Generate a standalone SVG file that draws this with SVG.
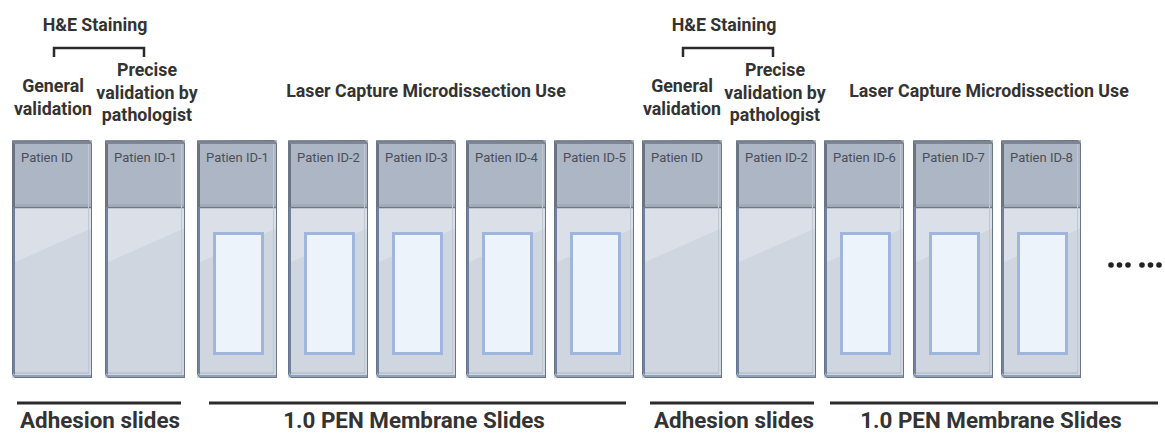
<svg xmlns="http://www.w3.org/2000/svg" xmlns:xlink="http://www.w3.org/1999/xlink" width="1165" height="434" viewBox="0 0 1165 434">
  <style>
    .title { font-family: Roboto, "Liberation Sans", sans-serif; font-weight: 700; font-size: 17.8px; fill: #333333; text-anchor: middle; }
    .bottom { font-family: Roboto, "Liberation Sans", sans-serif; font-weight: 700; font-size: 22.4px; fill: #333333; text-anchor: middle; }
    .id { font-family: Roboto, "Liberation Sans", sans-serif; font-size: 13px; fill: #4a4f58; }
    .rule { stroke: #2b2b2b; stroke-width: 3; fill: none; }
    .bracket { stroke: #2b2b2b; stroke-width: 2.5; fill: none; }
  </style>
  <defs>
    <g id="slideBase">
      <rect x="0" y="140" width="80" height="238" fill="#d0d6df"/>
      <polygon points="3,207 80,207 80,228 3,262" fill="#dbe0e8"/>
      <rect x="0" y="140" width="80" height="67" fill="#adb6c4"/>
      <polygon points="0,141 3,144 3,375 0,372" fill="#6e82a0"/>
      <polygon points="0,141 3,144 3,207 0,207" fill="#6c737e"/>
      <polygon points="0,141 77,141 80,144 3,144" fill="#7f8691"/>
      <line x1="3" y1="205" x2="80" y2="205" stroke="#9aa2ae" stroke-width="1"/>
      <line x1="3" y1="207.5" x2="80" y2="207.5" stroke="#6f7784" stroke-width="1.5"/>
      <line x1="76.5" y1="144" x2="76.5" y2="373" stroke="#bfc7d3" stroke-width="1"/>
      <line x1="3" y1="373" x2="77" y2="373" stroke="#aab4c3" stroke-width="1"/>
      <polygon points="0,372 3,375 80,375 80,378 3,378" fill="#8fa0b8"/>
      <path d="M0.5,141 L77,140.5 L79.5,143.5 L79.5,377.5 L3,377.5 L0.5,374.5 Z" fill="none" stroke="#6a7588" stroke-width="1"/>
    </g>
    <g id="window">
      <rect x="17.5" y="233.5" width="48" height="120" fill="#edf3fb" stroke="#a0b5dc" stroke-width="3"/>
    </g>
  </defs>

  <g id="header-left">
    <text class="title" x="95" y="31">H&amp;E Staining</text>
    <path class="bracket" d="M54,57 V48 H144 V57"/>
    <text class="title" x="53" y="92">General</text>
    <text class="title" x="53" y="115">validation</text>
    <text class="title" x="147" y="76">Precise</text>
    <text class="title" x="147" y="99">validation by</text>
    <text class="title" x="147" y="121">pathologist</text>
    <text class="title" x="426" y="97">Laser Capture Microdissection Use</text>
  </g>
  <g id="header-right">
    <text class="title" x="724" y="31">H&amp;E Staining</text>
    <path class="bracket" d="M683,57 V48 H773 V57"/>
    <text class="title" x="682" y="92">General</text>
    <text class="title" x="682" y="115">validation</text>
    <text class="title" x="775" y="76">Precise</text>
    <text class="title" x="775" y="99">validation by</text>
    <text class="title" x="775" y="121">pathologist</text>
    <text class="title" x="989" y="97">Laser Capture Microdissection Use</text>
  </g>

  <g id="slide-1" transform="translate(12,0)"><use xlink:href="#slideBase"/><text class="id" x="9" y="162">Patien ID</text></g>
  <g id="slide-2" transform="translate(105,0)"><use xlink:href="#slideBase"/><text class="id" x="9" y="162">Patien ID-1</text></g>
  <g id="slide-3" transform="translate(197,0)"><use xlink:href="#slideBase"/><use xlink:href="#window"/><text class="id" x="9" y="162">Patien ID-1</text></g>
  <g id="slide-4" transform="translate(288,0)"><use xlink:href="#slideBase"/><use xlink:href="#window"/><text class="id" x="9" y="162">Patien ID-2</text></g>
  <g id="slide-5" transform="translate(376,0)"><use xlink:href="#slideBase"/><use xlink:href="#window"/><text class="id" x="9" y="162">Patien ID-3</text></g>
  <g id="slide-6" transform="translate(466,0)"><use xlink:href="#slideBase"/><use xlink:href="#window"/><text class="id" x="9" y="162">Patien ID-4</text></g>
  <g id="slide-7" transform="translate(554,0)"><use xlink:href="#slideBase"/><use xlink:href="#window"/><text class="id" x="9" y="162">Patien ID-5</text></g>
  <g id="slide-8" transform="translate(642,0)"><use xlink:href="#slideBase"/><text class="id" x="9" y="162">Patien ID</text></g>
  <g id="slide-9" transform="translate(736,0)"><use xlink:href="#slideBase"/><text class="id" x="9" y="162">Patien ID-2</text></g>
  <g id="slide-10" transform="translate(824,0)"><use xlink:href="#slideBase"/><use xlink:href="#window"/><text class="id" x="9" y="162">Patien ID-6</text></g>
  <g id="slide-11" transform="translate(913,0)"><use xlink:href="#slideBase"/><use xlink:href="#window"/><text class="id" x="9" y="162">Patien ID-7</text></g>
  <g id="slide-12" transform="translate(1001,0)"><use xlink:href="#slideBase"/><use xlink:href="#window"/><text class="id" x="9" y="162">Patien ID-8</text></g>

  <g id="ellipsis" fill="#222222">
    <circle cx="1111" cy="265" r="2.8"/>
    <circle cx="1119.5" cy="265" r="2.8"/>
    <circle cx="1128" cy="265" r="2.8"/>
    <circle cx="1142" cy="265" r="2.8"/>
    <circle cx="1150.5" cy="265" r="2.8"/>
    <circle cx="1159" cy="265" r="2.8"/>
  </g>

  <g id="connectors">
    <line class="rule" x1="17" y1="403" x2="181" y2="403"/>
    <line class="rule" x1="209" y1="403" x2="626" y2="403"/>
    <line class="rule" x1="650" y1="403" x2="814" y2="403"/>
    <line class="rule" x1="830" y1="403" x2="1158" y2="403"/>
  </g>

  <g id="labels-bottom">
    <text class="bottom" x="100" y="428">Adhesion slides</text>
    <text class="bottom" x="414" y="428">1.0 PEN Membrane Slides</text>
    <text class="bottom" x="734" y="428">Adhesion slides</text>
    <text class="bottom" x="991" y="428">1.0 PEN Membrane Slides</text>
  </g>
</svg>
